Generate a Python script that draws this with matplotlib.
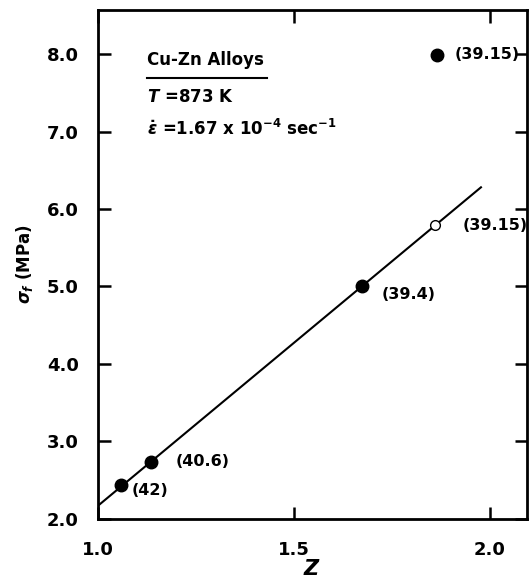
import numpy as np
import matplotlib.pyplot as plt

# Données
z_plein = [1.058, 1.135, 1.673, 1.866]
sigma_plein = [2.44, 2.74, 5.01, 7.99]
z_ouvert = [1.86]
sigma_ouvert = [5.79]
etiquettes_plein = ['(42)', '(40.6)', '(39.4)', '(39.15)']
etiquettes_ouvert = ['(39.15)']
decalage_plein = [(0.028, -0.07), (0.062, 0.0), (0.05, -0.12), (0.045, 0.0)]
decalage_ouvert = [(0.07, 0.0)]
droite_z = [1.0, 1.977]
droite_sigma = [2.17, 6.28]

plt.rcParams['font.family'] = 'DejaVu Sans'
plt.rcParams['font.weight'] = 'bold'

fig = plt.figure(figsize=(5.3, 5.83), dpi=100)
ax = fig.add_axes([0.185, 0.110, 0.809, 0.873])

ax.plot(droite_z, droite_sigma, color='black', lw=1.5)
ax.plot(z_plein, sigma_plein, 'o', color='black', ms=9)
ax.plot(z_ouvert, sigma_ouvert, 'o', mfc='white', mec='black', mew=1.0, ms=7)

for x, y, t, d in zip(z_plein, sigma_plein, etiquettes_plein, decalage_plein):
    ax.text(x + d[0], y + d[1], t, fontsize=11.5, va='center', ha='left')
for x, y, t, d in zip(z_ouvert, sigma_ouvert, etiquettes_ouvert, decalage_ouvert):
    ax.text(x + d[0], y + d[1], t, fontsize=11.5, va='center', ha='left')

ax.text(1.125, 7.92, 'Cu-Zn Alloys', fontsize=12, va='center')
ax.plot([1.125, 1.43], [7.69, 7.69], color='black', lw=1.5)
ax.text(1.125, 7.44, r'$T$ =873 K', fontsize=12, va='center')
ax.text(1.125, 7.03, r'$\dot{\epsilon}$ =1.67 x 10$^{\mathbf{-4}}$ sec$^{\mathbf{-1}}$',
        fontsize=12, va='center')

ax.set_xlim(1.0, 2.094)
ax.set_ylim(2.0, 8.57)
ax.set_xticks([1.0, 1.5, 2.0])
ax.set_xticklabels(['1.0', '1.5', '2.0'])
ax.set_yticks(np.arange(2.0, 8.5, 1.0))
ax.set_yticklabels(['2.0', '3.0', '4.0', '5.0', '6.0', '7.0', '8.0'])
ax.tick_params(direction='in', length=9, width=1.8, labelsize=13,
               top=True, right=True)
ax.tick_params(axis='y', pad=14)
ax.tick_params(axis='x', pad=16)
for s in ax.spines.values():
    s.set_linewidth(2)

ax.set_xlabel(r'$Z$', fontsize=15, labelpad=0)
ax.set_ylabel(r'$\sigma_f$ (MPa)', fontsize=12, fontweight='bold', labelpad=8)

plt.savefig('out.png', dpi=100)
